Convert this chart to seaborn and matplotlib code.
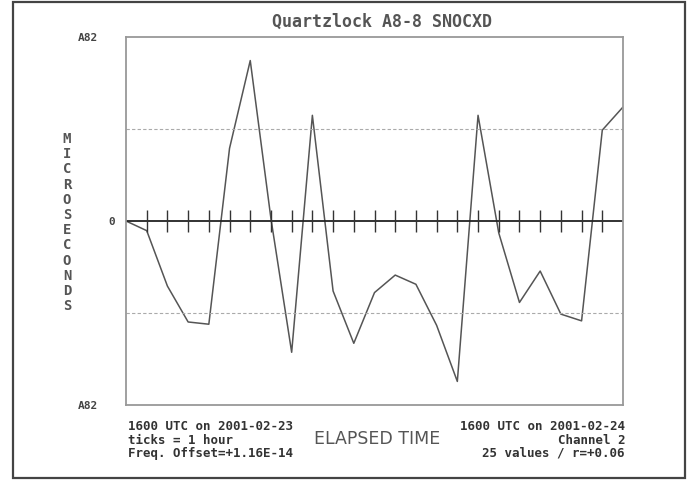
import matplotlib
matplotlib.use('Agg')
import matplotlib.pyplot as plt
import matplotlib.transforms as mtransforms
import seaborn as sns
import pandas as pd

# 25 hourly readings (microseconds)
hours = list(range(25))
offsets = [0, -4.3, -29, -45, -46, 32.4, 71.5, 1, -58.5, 47.1, -31.2, -54.5, -31.9,
           -24.1, -28.2, -46.5, -71.5, 47.1, -5.3, -36.3, -22.3, -41.5, -44.5, 40.5, 50.8]
y_limit = 82
y_tick_values = [y_limit, 0, -y_limit]
y_tick_labels = ['A82', '0', 'A82']
left_notes = ['1600 UTC on 2001-02-23', 'ticks = 1 hour', 'Freq. Offset=+1.16E-14']
right_notes = ['1600 UTC on 2001-02-24', 'Channel 2', '25 values / r=+0.06']
title = 'Quartzlock A8-8 SNOCXD'

sns.set_style('white')
plt.rcParams['font.family'] = ['DejaVu Sans Mono']

df = pd.DataFrame({'hour': hours, 'offset': offsets})

fig = plt.figure(figsize=(6.92, 4.81), dpi=100)
ax = fig.add_axes([126 / 692, 1 - 406 / 481, 497 / 692, 368 / 481])

sns.lineplot(x='hour', y='offset', data=df, ax=ax, color='#555555', linewidth=1.1)

# zero line, dashed half-scale guides and hourly ticks
ax.axhline(0, color='#222222', linewidth=1.3)
for lvl in (y_limit / 2, -y_limit / 2):
    ax.axhline(lvl, color='#aaaaaa', linewidth=0.8, linestyle=(0, (3, 2)))
ax.vlines(hours[1:-1], -5, 5, color='#333333', linewidth=1.0)

ax.set_xlim(0, 24)
ax.set_ylim(-y_limit, y_limit)
ax.set_xticks([])
ax.set_yticks([y_limit, y_limit / 2, 0, -y_limit / 2, -y_limit])
ax.set_yticklabels([])
ax.tick_params(axis='y', direction='inout', length=7, color='#999999', width=1.0)
ax.set_xlabel('')
ax.set_ylabel('')
for s in ax.spines.values():
    s.set_color('#999999')
    s.set_linewidth(1.3)

# tick labels placed off the axis like the original
trans = mtransforms.blended_transform_factory(ax.transAxes, ax.transData)
for val, lab in zip(y_tick_values, y_tick_labels):
    xpos = -0.022 if lab == '0' else -0.056
    ax.text(xpos, val, lab, transform=trans, ha='right', va='center',
            fontsize=8, color='#444444', fontweight='bold')

fig.text(382 / 692, 1 - 22 / 481, title, ha='center', va='center',
         fontsize=12, color='#555555', fontweight='bold')

# vertical stacked axis label
for k, ch in enumerate('MICROSECONDS'):
    fig.text(67 / 692, 1 - (139 + k * 15.2) / 481, ch, ha='center', va='center',
             fontsize=10, color='#555555', fontweight='bold')

for k, line in enumerate(left_notes):
    fig.text(128 / 692, 1 - (427 + k * 13.2) / 481, line, ha='left', va='center',
             fontsize=9, color='#333333', fontweight='bold')
for k, line in enumerate(right_notes):
    fig.text(625 / 692, 1 - (427 + k * 13.2) / 481, line, ha='right', va='center',
             fontsize=9, color='#333333', fontweight='bold')
fig.text(377 / 692, 1 - 439 / 481, 'ELAPSED TIME', ha='center', va='center',
         fontsize=12.5, color='#555555', family='DejaVu Sans')

# outer frame
fig.patches.append(plt.Rectangle((13 / 692, 2 / 481), 672 / 692, 476 / 481,
                                 transform=fig.transFigure, fill=False,
                                 edgecolor='#444444', linewidth=1.6))

plt.savefig('out.png', dpi=100)
plt.close()
